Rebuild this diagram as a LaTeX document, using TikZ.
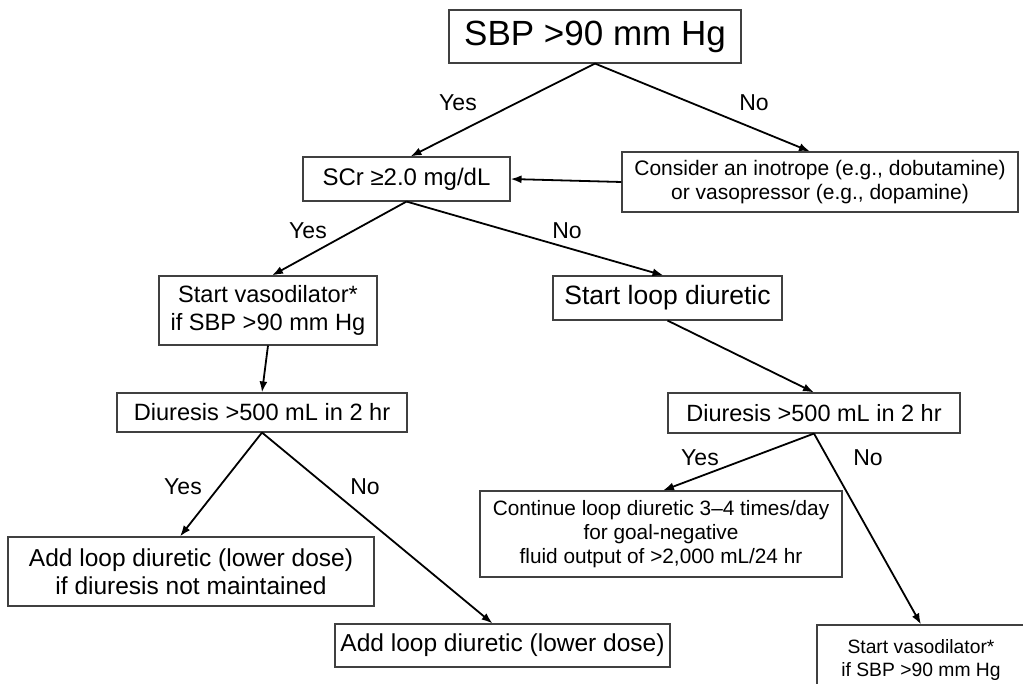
\documentclass[tikz,border=0pt]{standalone}
\usepackage{fontspec}
\setmainfont{Liberation Sans}
\usetikzlibrary{arrows.meta}

\begin{document}
\begin{tikzpicture}[x=1pt,y=-1pt,>={Latex[length=11pt,width=8pt]},
  box/.style={draw=black!75,line width=1.1pt,align=center,inner sep=0pt},
  arr/.style={->,line width=1.8pt},
  lbl/.style={font=\fontsize{23}{26}\selectfont}]
  \useasboundingbox (0,0) rectangle (1023,684);
  \clip (0,0) rectangle (1023,684);
  % decision boxes
  \node[box,minimum width=292pt,minimum height=53pt,font=\fontsize{35}{40}\selectfont] (sbp) at (595,36.5) {SBP >90 mm Hg};
  \node[box,minimum width=207pt,minimum height=44pt,font=\fontsize{24}{28}\selectfont] (scr) at (406.5,179) {SCr ≥2.0 mg/dL};
  \node[box,minimum width=396pt,minimum height=60pt,font=\fontsize{21}{24}\selectfont] (ino) at (820,182) {Consider an inotrope (e.g., dobutamine)\\or vasopressor (e.g., dopamine)};
  \node[box,minimum width=218pt,minimum height=69pt,font=\fontsize{23.6}{28}\selectfont] (vasoL) at (268,310.5) {Start vasodilator*\\if SBP >90 mm Hg};
  \node[box,minimum width=229pt,minimum height=44pt,font=\fontsize{26.5}{30}\selectfont] (loop) at (667.5,298) {Start loop diuretic};
  \node[box,minimum width=290pt,minimum height=39pt,font=\fontsize{23.6}{28}\selectfont] (diurL) at (262,412.5) {Diuresis >500 mL in 2 hr};
  \node[box,minimum width=292pt,minimum height=40pt,font=\fontsize{23.5}{28}\selectfont] (diurR) at (814,413) {Diuresis >500 mL in 2 hr};
  % end boxes
  \node[box,minimum width=362pt,minimum height=86pt,font=\fontsize{20.8}{24}\selectfont] (cont) at (661,534) {Continue loop diuretic 3–4 times/day\\for goal-negative\\fluid output of >2,000 mL/24 hr};
  \node[box,minimum width=366pt,minimum height=69pt,font=\fontsize{24.5}{28}\selectfont] (addL) at (191,571.5) {Add loop diuretic (lower dose)\\if diuresis not maintained};
  \node[box,minimum width=335pt,minimum height=43pt,font=\fontsize{24.5}{28}\selectfont] (addB) at (502.5,645.5) {Add loop diuretic (lower dose)};
  \node[box,minimum width=208pt,minimum height=70pt,font=\fontsize{19.3}{23}\selectfont] (vasoR) at (921,660) {Start vasodilator*\\if SBP >90 mm Hg};
  % yes/no labels
  \node[lbl] (y1) at (458,103) {Yes};
  \node[lbl] (n1) at (754,103) {No};
  \node[lbl] (y2) at (308,231) {Yes};
  \node[lbl] (n2) at (567,231) {No};
  \node[lbl] (y3) at (183,487) {Yes};
  \node[lbl] (n3) at (365,487) {No};
  \node[lbl] (y4) at (700,458) {Yes};
  \node[lbl] (n4) at (868,458) {No};
  % connectors
  \draw[arr] (sbp.south) -- ([xshift=4pt]scr.north);
  \draw[arr] (sbp.south) -- ([xshift=-10pt]ino.north);
  \draw[arr] (ino.west) -- (scr.east);
  \draw[arr] (scr.south) -- ([xshift=4pt]vasoL.north);
  \draw[arr] (scr.south) -- ([xshift=-4pt]loop.north);
  \draw[arr] (vasoL.south) -- (diurL.north);
  \draw[arr] (loop.south) -- (diurR.north);
  \draw[arr] (diurL.south) -- ([xshift=-11pt]addL.north);
  \draw[arr] (diurL.south) -- ([xshift=-10pt]addB.north);
  \draw[arr] (diurR.south) -- ([xshift=2pt]cont.north);
  \draw[arr] (diurR.south) -- (vasoR.north);
\end{tikzpicture}
\end{document}
